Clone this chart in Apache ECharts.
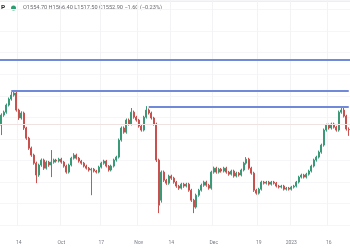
<!DOCTYPE html>
<html>
<head>
<meta charset="utf-8">
<script src="https://cdn.jsdelivr.net/npm/echarts@6/dist/echarts.min.js"></script>
<style>
  html, body { margin: 0; padding: 0; background: #fff; }
  #chart { width: 350px; height: 250px; }
</style>
</head>
<body>
<div id="chart"></div>
<script>
// daily candles, one per calendar day from startDate
const startDate = '2022-09-07';
// [open, close, low, high]
const candles = [
  [1580,1638,1522,1648],[1638,1655,1628,1664],[1655,1696,1646,1705],[1696,1731,1688,1740],
  [1731,1754,1722,1772],[1754,1766,1745,1778],[1766,1667,1658,1772],[1667,1621,1610,1675],
  [1621,1650,1612,1660],[1650,1563,1552,1658],[1563,1504,1494,1570],[1504,1446,1436,1512],
  [1446,1406,1396,1455],[1406,1359,1350,1414],[1359,1290,1243,1368],[1290,1348,1280,1356],
  [1348,1377,1338,1386],[1377,1330,1320,1385],[1330,1365,1322,1374],[1365,1348,1338,1372],
  [1348,1365,1278,1435],[1365,1377,1356,1385],[1377,1371,1362,1384],[1371,1382,1363,1390],
  [1382,1365,1356,1390],[1365,1342,1333,1372],[1342,1307,1298,1350],[1307,1348,1299,1356],
  [1348,1388,1340,1396],[1388,1406,1380,1417],[1406,1388,1380,1414],[1388,1371,1362,1395],
  [1371,1359,1350,1378],[1359,1342,1334,1366],[1342,1330,1322,1350],[1330,1319,1310,1337],
  [1319,1324,1173,1332],[1324,1313,1305,1331],[1313,1307,1299,1320],[1307,1336,1300,1344],
  [1336,1359,1328,1367],[1359,1371,1350,1379],[1371,1342,1334,1378],[1342,1319,1310,1348],
  [1319,1342,1311,1350],[1342,1377,1334,1385],[1377,1394,1368,1402],[1394,1493,1386,1502],
  [1493,1563,1484,1572],[1563,1539,1530,1572],[1539,1609,1530,1618],[1609,1586,1577,1618],
  [1586,1655,1578,1679],[1655,1626,1617,1664],[1626,1609,1600,1634],[1609,1574,1565,1616],
  [1574,1551,1542,1582],[1551,1626,1543,1634],[1626,1667,1618,1690],[1667,1650,1641,1676],
  [1650,1621,1612,1658],[1621,1586,1577,1628],[1586,1377,1366,1594],[1377,1115,1069,1385],
  [1144,1307,1130,1316],[1307,1260,1250,1316],[1260,1243,1233,1268],[1243,1284,1234,1292],
  [1284,1272,1262,1292],[1272,1249,1240,1280],[1249,1226,1216,1256],[1226,1214,1204,1233],
  [1214,1237,1206,1245],[1237,1226,1216,1245],[1226,1237,1218,1245],[1237,1202,1193,1245],
  [1202,1144,1134,1210],[1144,1104,1069,1152],[1104,1173,1095,1182],[1173,1202,1164,1210],
  [1202,1231,1194,1240],[1231,1249,1222,1257],[1249,1231,1222,1257],[1231,1214,1205,1239],
  [1214,1307,1205,1315],[1307,1330,1298,1339],[1330,1307,1298,1338],[1307,1324,1299,1332],
  [1324,1313,1304,1331],[1313,1330,1305,1338],[1330,1307,1298,1338],[1307,1295,1286,1314],
  [1295,1313,1287,1321],[1313,1284,1275,1321],[1284,1301,1276,1309],[1301,1290,1281,1308],
  [1290,1319,1282,1327],[1319,1359,1311,1367],[1359,1382,1350,1394],[1382,1330,1321,1390],
  [1330,1301,1292,1338],[1301,1202,1192,1309],[1202,1185,1176,1210],[1185,1208,1177,1216],
  [1208,1249,1200,1257],[1249,1243,1235,1256],[1243,1249,1235,1256],[1249,1237,1229,1256],
  [1237,1249,1229,1256],[1249,1243,1235,1256],[1243,1226,1218,1250],[1226,1220,1212,1233],
  [1220,1226,1212,1233],[1226,1208,1200,1233],[1208,1214,1200,1221],[1214,1208,1200,1221],
  [1208,1220,1200,1227],[1220,1226,1212,1233],[1226,1249,1218,1256],[1249,1278,1241,1286],
  [1278,1290,1270,1298],[1290,1278,1270,1297],[1278,1295,1270,1303],[1295,1313,1287,1321],
  [1313,1342,1305,1350],[1342,1377,1334,1385],[1377,1394,1368,1402],[1394,1423,1386,1432],
  [1423,1464,1414,1472],[1464,1551,1455,1560],[1551,1580,1542,1588],[1580,1563,1554,1588],
  [1563,1586,1554,1594],[1586,1568,1560,1594],[1568,1551,1542,1576],[1551,1655,1542,1664],
  [1655,1667,1646,1685],[1667,1632,1624,1685],[1632,1557,1548,1640],[1554.7,1552.9,1517.5,1566.4]
];
const tickDates = ['2022-09-14','2022-10-01','2022-10-17','2022-11-01','2022-11-14','2022-12-01','2022-12-19','2023-01-01','2023-01-16'];
const tickLabels = ['14','Oct','17','Nov','14','Dec','19','2023','16'];
// horizontal levels: price, start date (null = full width)
const levelPrices = [1958, 1778, 1685];
const levelStarts = [null, '2022-09-11', '2022-11-05'];
const priceLine = 1586;
const header = 'O1554.70 H1566.40 L1517.50 C1552.90 \u22121.60 (\u22120.23%)';

const dates = [];
const d0 = new Date(startDate + 'T00:00:00Z');
for (let i = 0; i < candles.length; i++) {
  const d = new Date(d0.getTime() + i * 86400000);
  dates.push(d.toISOString().slice(0, 10));
}
const lastDate = dates[dates.length - 1];
const isTick = (i, v) => tickDates.indexOf(v) >= 0;

const levelStyle = { color: '#7089d9', width: 2, type: 'solid' };
const markData = levelPrices.map((p, k) => {
  if (!levelStarts[k]) return { yAxis: p, lineStyle: levelStyle };
  return [{ coord: [levelStarts[k], p], lineStyle: levelStyle }, { coord: [lastDate, p] }];
});
markData.push({ yAxis: priceLine, lineStyle: { color: '#f1e2e2', width: 1, type: 'solid' } });

const chart = echarts.init(document.getElementById('chart'), null, { renderer: 'canvas' });
chart.setOption({
  animation: false,
  backgroundColor: '#fff',
  grid: { left: 0, right: 0, top: 0, bottom: 25 },
  xAxis: {
    type: 'category',
    data: dates,
    boundaryGap: true,
    axisLine: { show: false },
    axisTick: { show: false },
    axisLabel: {
      interval: isTick,
      formatter: v => tickLabels[tickDates.indexOf(v)],
      fontSize: 5,
      color: '#787b86',
      fontFamily: 'Roboto',
      margin: 15
    },
    splitLine: { show: true, interval: isTick, lineStyle: { color: '#f3f3f5', width: 1 } }
  },
  yAxis: {
    type: 'value',
    min: 1000,
    max: 2306,
    interval: 125,
    position: 'right',
    axisLabel: { show: false },
    axisLine: { show: false },
    axisTick: { show: false },
    splitLine: { lineStyle: { color: '#f6f6f8', width: 1 } }
  },
  series: [{
    type: 'candlestick',
    data: candles,
    barWidth: 1.6,
    itemStyle: {
      color: '#3a9a78',
      color0: '#c9504d',
      borderColor: '#3a9a78',
      borderColor0: '#c9504d',
      borderWidth: 1
    },
    markLine: {
      silent: true,
      symbol: 'none',
      label: { show: false },
      data: markData
    }
  }],
  graphic: [
    { type: 'rect', left: 0, top: 0, shape: { width: 350, height: 1.5 }, style: { fill: '#dcdde6' } },
    { type: 'text', left: 1, top: 4.5, style: { text: 'P', fontSize: 6.5, fontWeight: 'bold', fill: '#333', fontFamily: 'Roboto' } },
    { type: 'circle', left: 11, top: 5.5, shape: { r: 2.5 }, style: { fill: '#2e9e72' } },
    { type: 'text', left: 23, top: 5, style: { text: header, fontSize: 5.6, fill: '#6a6a70', fontFamily: 'Roboto' } }
  ]
});
</script>
</body>
</html>
